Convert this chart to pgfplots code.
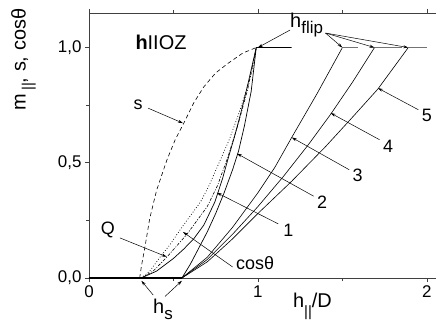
\documentclass[border=0pt]{standalone}
\usepackage{pgfplots}
\pgfplotsset{compat=1.18}
\usepackage{fontspec}
\setmainfont{Liberation Sans}
\usetikzlibrary{arrows.meta}
\begin{document}
\begin{tikzpicture}[
  annot/.style={font=\fontsize{18}{20}\selectfont, inner sep=0pt},
  arr/.style={-{Stealth[length=5bp,width=3bp]}, line width=0.5pt},
]
\begin{axis}[
  scale only axis, width=348bp, height=265bp,
  xmin=0, xmax=2.06, ymin=0, ymax=1.15,
  axis line style={black!75, line width=0.7pt},
  xtick={0,1,2}, xticklabels={0,1,2},
  ytick={0,0.5,1}, yticklabels={{0,0},{0,5},{1,0}},
  minor xtick={0.5,1.5}, minor ytick={0.25,0.75},
  tick align=outside, tick pos=both,
  major tick length=4bp, minor tick length=3bp,
  tick style={black!75, line width=0.7pt},
  tick label style={font=\fontsize{17}{19}\selectfont},
  clip=false,
]
% s (dashed)
\addplot[black, line width=0.6pt, dash pattern=on 4pt off 3pt] coordinates {
(0.30,0) (0.31,0.05) (0.33,0.13) (0.36,0.26) (0.40,0.38) (0.46,0.51) (0.51,0.60)
(0.56,0.67) (0.62,0.76) (0.68,0.83) (0.75,0.89) (0.82,0.93) (0.91,0.976) (0.99,1.0)};
% Q (dotted)
\addplot[black, line width=0.7pt, dash pattern=on 0.8pt off 2pt] coordinates {
(0.31,0) (0.36,0.03) (0.42,0.09) (0.48,0.145) (0.54,0.21) (0.60,0.27) (0.66,0.33)
(0.71,0.40) (0.77,0.50) (0.83,0.60) (0.88,0.70) (0.93,0.81) (0.97,0.91) (0.99,1.0)};
% cos theta (dash dot)
\addplot[black, line width=0.6pt, dash pattern=on 3pt off 1.5pt on 1pt off 1.5pt] coordinates {
(0.31,0) (0.38,0.03) (0.46,0.09) (0.52,0.14) (0.58,0.19) (0.64,0.25) (0.70,0.31)
(0.76,0.40) (0.82,0.52) (0.88,0.66) (0.94,0.82) (0.99,1.0)};
% curve 1
\addplot[black, line width=0.7pt] coordinates {
(0,0) (0.31,0) (0.40,0.03) (0.50,0.085) (0.56,0.125) (0.62,0.17) (0.68,0.23)
(0.745,0.33) (0.79,0.43) (0.824,0.52) (0.86,0.61) (0.90,0.72) (0.94,0.84) (0.99,1.0) (1.2,1.0)};
% curve 2
\addplot[black, line width=0.7pt] coordinates {
(0.55,0) (0.60,0.06) (0.65,0.13) (0.70,0.20) (0.75,0.28) (0.80,0.37) (0.85,0.47)
(0.885,0.55) (0.92,0.66) (0.96,0.81) (0.99,1.0)};
% curve 3
\addplot[black, line width=0.6pt] coordinates {
(0.55,0) (0.70,0.09) (0.85,0.22) (1.0,0.37) (1.10,0.48) (1.20,0.61) (1.35,0.80) (1.50,1.0)};
\addplot[black!55, line width=1pt] coordinates {(1.50,1.0) (1.59,1.0)};
% curve 4
\addplot[black, line width=0.6pt] coordinates {
(0.55,0) (0.70,0.08) (0.85,0.19) (1.0,0.31) (1.15,0.44) (1.30,0.58) (1.43,0.71) (1.56,0.85) (1.69,1.0)};
\addplot[black!55, line width=1pt] coordinates {(1.69,1.0) (1.85,1.0)};
% curve 5
\addplot[black, line width=0.6pt] coordinates {
(0.55,0) (0.70,0.07) (0.85,0.17) (1.0,0.28) (1.2,0.42) (1.4,0.57) (1.55,0.69) (1.71,0.82) (1.89,1.0)};
\addplot[black!55, line width=1pt] coordinates {(1.89,1.0) (2.0,1.0)};
% bold zero segment
\addplot[black, line width=1.2pt] coordinates {(0,0) (0.55,0)};

% annotations
\node[annot, font=\fontsize{20}{22}\selectfont] at (axis cs:0.426,1.024) {\textbf{h}IIOZ};
\node[annot] at (axis cs:0.29,0.75) {s};
\draw[arr] (axis cs:0.35,0.737) -- (axis cs:0.556,0.672);
\node[annot] at (axis cs:0.112,0.208) {Q};
\draw[arr] (axis cs:0.183,0.174) -- (axis cs:0.46,0.092);
\node[annot, anchor=west] at (axis cs:0.87,0.065) {cosθ};
\draw[arr] (axis cs:0.85,0.048) -- (axis cs:0.556,0.20);
\node[annot] at (axis cs:1.18,0.208) {1};
\draw[arr] (axis cs:1.12,0.235) -- (axis cs:0.757,0.37);
\node[annot] at (axis cs:1.38,0.33) {2};
\draw[arr] (axis cs:1.33,0.355) -- (axis cs:0.876,0.54);
\node[annot] at (axis cs:1.59,0.447) {3};
\draw[arr] (axis cs:1.54,0.47) -- (axis cs:1.20,0.61);
\node[annot] at (axis cs:1.77,0.57) {4};
\draw[arr] (axis cs:1.72,0.60) -- (axis cs:1.43,0.716);
\node[annot] at (axis cs:2.0,0.707) {5};
\draw[arr] (axis cs:1.95,0.73) -- (axis cs:1.71,0.824);
\node[annot, anchor=base west, font=\fontsize{20}{22}\selectfont] at (axis cs:1.19,1.085) {h\raisebox{-0.3em}{\fontsize{17}{19}\selectfont flip}};
\draw[arr] (axis cs:1.19,1.076) -- (axis cs:1.0,1.0);
\draw[arr] (axis cs:1.40,1.063) -- (axis cs:1.50,1.0);
\draw[arr] (axis cs:1.40,1.063) -- (axis cs:1.69,1.0);
\draw[arr] (axis cs:1.40,1.063) -- (axis cs:1.89,1.0);
\node[annot, anchor=base west, font=\fontsize{20}{22}\selectfont] at (axis cs:0.379,-0.156) {h\raisebox{-0.3em}{\fontsize{17}{19}\selectfont s}};
\draw[arr] (axis cs:0.38,-0.074) -- (axis cs:0.31,-0.012);
\draw[arr] (axis cs:0.45,-0.08) -- (axis cs:0.55,-0.012);
\node[annot, anchor=base west, font=\fontsize{20}{22}\selectfont] at (axis cs:1.207,-0.126) {h\raisebox{-0.45em}{\fontsize{15}{17}\selectfont ||}/D};
\node[annot, anchor=base west, font=\fontsize{20}{22}\selectfont, rotate=90] at (axis cs:-0.375,0.725) {m\,\raisebox{-0.35em}{\fontsize{15}{17}\selectfont ||}, s, cosθ};
\end{axis}
\pgfresetboundingbox
\path (-89bp,-46bp) rectangle (347bp,278bp);
\end{tikzpicture}
\end{document}
